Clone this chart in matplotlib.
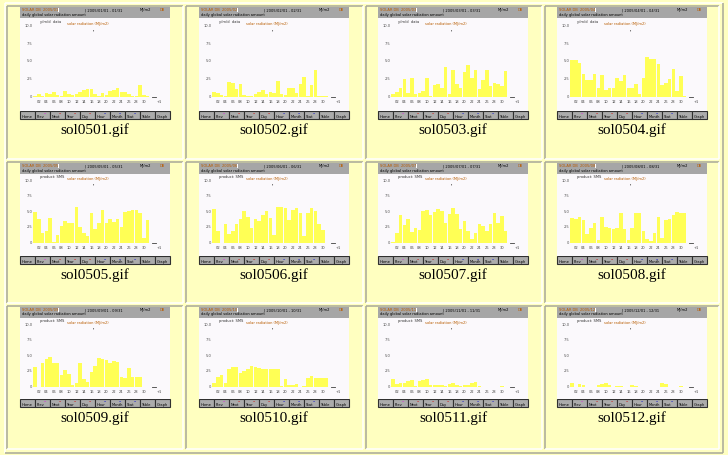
import matplotlib
matplotlib.use("Agg")
import matplotlib.pyplot as plt
from matplotlib.patches import Rectangle

# page size in pixels
W, H = 728, 455

captions = ["sol0501.gif", "sol0502.gif", "sol0503.gif", "sol0504.gif",
            "sol0505.gif", "sol0506.gif", "sol0507.gif", "sol0508.gif",
            "sol0509.gif", "sol0510.gif", "sol0511.gif", "sol0512.gif"]

days = list(range(1, 32))

# daily values
sol0501 = [0.15, 0.4, 0.15, 0.55, 0.45, 0.65, 0.2, 0.1, 0.8, 0.45, 0.3, 0.45, 0.65, 0.95, 1.05, 1.1,
           0.45, 0.1, 0.5, 0.2, 0.75, 0.95, 1.3, 0.7, 0.65, 0.45, 0.15, 0.1, 1.6, 0.2, 0.1]
sol0502 = [0.7, 0.5, 0.25, 0.1, 2.1, 1.9, 1.1, 1.8, 0.25, 0.15, 0.1, 0.4, 0.65, 0.95, 0.4, 0.65,
           0.55, 2.25, 0.45, 0.2, 1.3, 1.3, 0.55, 1.8, 2.75, 0.1, 1.6, 3.8, 0.1, 0.1, 0.1]
sol0503 = [0.35, 0.65, 1.3, 2.45, 0.55, 2.65, 0.45, 0.55, 0.85, 2.65, 0.1, 1.6, 1.8, 1.2, 4.25, 0.45,
           3.8, 1.8, 1.3, 3.55, 4.5, 2.7, 3.8, 1.05, 2.35, 3.8, 1.5, 2.0, 1.8, 1.5, 3.7]
sol0504 = [5.2, 5.2, 4.8, 3.2, 2.4, 2.4, 3.2, 1.3, 3.1, 1.0, 1.2, 1.3, 2.6, 2.2, 3.1, 1.2,
           1.2, 1.8, 0.4, 2.6, 5.6, 5.4, 5.3, 4.6, 1.6, 1.9, 2.5, 3.9, 0.85, 2.9, 0.1]
sol0505 = [5.0, 3.8, 1.6, 1.9, 4.0, 0.15, 1.25, 2.7, 3.5, 3.2, 3.2, 5.8, 2.5, 1.55, 1.1, 4.8,
           2.25, 3.2, 5.3, 3.2, 3.8, 3.35, 3.9, 2.5, 5.0, 5.05, 5.3, 5.2, 4.85, 0.75, 3.65]
sol0506 = [5.5, 1.95, 0.0, 3.05, 1.4, 1.95, 3.05, 3.8, 5.1, 4.2, 2.35, 3.9, 3.55, 4.45, 5.1, 4.0,
           1.3, 5.8, 5.8, 5.65, 3.7, 5.2, 5.55, 4.85, 1.1, 4.85, 5.55, 5.1, 3.0, 2.05, 0.0]
sol0507 = [0.05, 1.5, 4.45, 2.85, 3.8, 1.75, 2.45, 2.05, 5.15, 5.25, 4.4, 5.0, 5.4, 5.15, 3.2, 4.6,
           5.55, 4.6, 2.2, 3.55, 1.95, 0.55, 1.6, 3.0, 2.7, 1.95, 3.0, 4.85, 3.2, 4.3, 1.95]
sol0508 = [4.0, 3.9, 4.15, 3.65, 1.4, 2.35, 3.15, 0.45, 4.1, 2.6, 2.35, 2.15, 2.35, 4.8, 2.15, 0.45,
           2.35, 4.8, 4.8, 1.85, 0.65, 0.3, 1.6, 4.15, 0.75, 3.65, 3.8, 4.45, 4.95, 4.75, 4.8]
sol0509 = [3.15, 0.0, 3.85, 4.5, 4.8, 3.75, 3.85, 1.85, 2.75, 2.0, 0.2, 0.65, 3.8, 1.3, 0.75, 2.35,
           3.35, 4.6, 4.4, 4.25, 3.9, 4.1, 4.0, 1.5, 1.4, 3.0, 1.55, 1.55, 1.55, 0.0, 0.0]
sol0510 = [0.65, 1.5, 1.85, 0.55, 2.8, 3.1, 3.1, 2.15, 2.55, 2.9, 3.3, 3.15, 2.95, 2.85, 2.85, 2.85,
           2.85, 2.85, 0.1, 1.25, 0.3, 0.3, 0.4, 0.0, 0.1, 1.45, 1.7, 1.4, 1.4, 1.4, 1.4]
sol0511 = [1.2, 0.45, 0.65, 0.55, 0.85, 1.05, 0.1, 0.95, 1.05, 1.25, 0.3, 0.2, 0.25, 0.25, 0.1, 0.45,
           0.6, 0.3, 0.1, 0.2, 0.3, 0.65, 0.75, 0.15, 0.0, 0.0, 0.0, 0.0, 0.0, 0.1, 0.0]
sol0512 = [0.65, 0.0, 0.4, 0.2, 0.0, 0.0, 0.0, 0.2, 0.4, 0.55, 0.25, 0.0, 0.15, 0.15, 0.0, 0.0,
           0.25, 0.15, 0.0, 0.0, 0.0, 0.0, 0.0, 0.0, 0.55, 0.45, 0.0, 0.0, 0.0, 0.15, 0.0]

months = [sol0501, sol0502, sol0503, sol0504, sol0505, sol0506,
          sol0507, sol0508, sol0509, sol0510, sol0511, sol0512]

y_ticks = [0, 2.5, 5, 7.5, 10]
y_tick_labels = ["0", "2.5", "5.0", "7.5", "10.0"]
x_tick_days = [2, 4, 6, 8, 10, 12, 14, 16, 18, 20, 22, 24, 26, 28, 30, 34]
x_tick_labels = ["02", "04", "06", "08", "10", "12", "14", "16", "18", "20",
                 "22", "24", "26", "28", "30", "+1"]
buttons = ["Home", "Prev", "Next", "Year", "Day", "Hour", "Month", "Stat", "Table", "Graph"]
button_marks = [None, "#e020e0", "#d01010", "#d01010", "#d01010",
                "#1010d0", "#1010d0", "#1010d0", None, None]

BG = "#FFFFC0"
BAR = "#FFFF55"
PLOT_BG = "#FBF9FC"
HEAD = "#A6A6A6"
ORANGE = "#B85C00"

# layout (pixels)
thumb_x = [20, 199, 378, 557]
row_top = [7.3, 163.3, 307.0]
row_h = [112.0, 101.0, 100.0]
zero_off = [89.4, 79.4, 79.7]      # baseline below thumbnail top
unit_px = [7.07, 6.2, 6.2]         # pixels per unit
caption_y = [130, 275, 418]
head_h, btn_h, thumb_w = 11.0, 8.3, 150.0
bar_start, day_px = 13.3, 3.75

cell_x = [(7, 183), (186, 362.5), (366, 542), (545, 718.5)]
cell_y = [(5.5, 159), (162, 303), (306, 449)]

fig = plt.figure(figsize=(W / 100, H / 100), dpi=100, facecolor=BG)
page = fig.add_axes([0, 0, 1, 1])
page.set_xlim(0, W)
page.set_ylim(H, 0)
page.axis("off")
page.set_facecolor(BG)

LIGHT, DARK = "#FFFFFF", "#A8A898"


def bevel(x0, y0, x1, y1, top_col, bot_col, lw=1.1):
    page.plot([x0, x1], [y0, y0], color=top_col, lw=lw, solid_capstyle="butt")
    page.plot([x0, x0], [y0, y1], color=top_col, lw=lw, solid_capstyle="butt")
    page.plot([x0, x1], [y1, y1], color=bot_col, lw=lw, solid_capstyle="butt")
    page.plot([x1, x1], [y0, y1], color=bot_col, lw=lw, solid_capstyle="butt")


# table outer border (raised) and cell borders (sunken)
bevel(4.5, 3.3, 722.5, 452.5, LIGHT, DARK)
for (cx0, cx1) in cell_x:
    for (cy0, cy1) in cell_y:
        bevel(cx0, cy0, cx1, cy1, DARK, LIGHT)

tiny = dict(fontsize=2.6, family="DejaVu Sans")

for k, vals in enumerate(months):
    r, c = divmod(k, 4)
    x0 = thumb_x[c]
    y0 = row_top[r]
    h = row_h[r]

    # header bar
    page.add_patch(Rectangle((x0, y0), thumb_w, head_h, facecolor=HEAD, edgecolor="none"))
    page.add_patch(Rectangle((x0 + 38, y0 + 1), 1.2, 4, facecolor="white", edgecolor="none"))
    page.text(x0 + 2, y0 + 3, f"SOLAR DB  2005/{k + 1:02d}", color=ORANGE, va="center", **tiny)
    page.text(x0 + 65, y0 + 3, f"| 2005/{k + 1:02d}/01 - {k + 1:02d}/31", color="black", va="center", **tiny)
    page.text(x0 + 120, y0 + 3, "MJ/m2", color="black", va="center", **tiny)
    page.text(x0 + 140, y0 + 3, "DB", color=ORANGE, va="center", **tiny)
    page.text(x0 + 2, y0 + 7.5, "daily global solar radiation amount", color="black", va="center", **tiny)

    # button bar
    by = y0 + h - btn_h
    bw = thumb_w / len(buttons)
    for i, name in enumerate(buttons):
        page.add_patch(Rectangle((x0 + i * bw, by), bw, btn_h, facecolor="#ABABAB",
                                 edgecolor="#303030", linewidth=0.8))
        page.text(x0 + i * bw + 1.5, by + btn_h - 2, name, color="black", va="center", **tiny)
        if button_marks[i]:
            page.text(x0 + i * bw + 9, by + 2.5, "..", color=button_marks[i], va="center",
                      fontsize=3, fontweight="bold")

    # caption
    page.text(x0 + thumb_w / 2, caption_y[r], captions[k], ha="center", va="center",
              fontsize=11, family=["Liberation Serif", "DejaVu Serif"], color="black")

    # chart area
    top = y0 + head_h
    bot = by
    ax = fig.add_axes([x0 / W, 1 - bot / H, thumb_w / W, (bot - top) / H])
    ax.set_facecolor(PLOT_BG)
    left = 0.5 - bar_start / day_px
    ax.set_xlim(left, left + thumb_w / day_px)
    base = y0 + zero_off[r]
    ax.set_ylim(-(bot - base) / unit_px[r], (base - top) / unit_px[r])
    for s in ax.spines.values():
        s.set_visible(False)
    ax.set_xticks([])
    ax.set_yticks([])

    ax.bar(days, vals, width=0.9, color=BAR, linewidth=0)

    lab_x = left + 12.5 / day_px
    for v, t in zip(y_ticks, y_tick_labels):
        ax.text(lab_x, v, t, ha="right", va="center", color="#505050", **tiny)
    lab_y = -5.5 / unit_px[r]
    for d, t in zip(x_tick_days, x_tick_labels):
        ax.text(d, lab_y, t, ha="center", va="center", color="#404040", **tiny)
    ax.plot([32.2, 33.2], [0, 0], color="#404040", lw=0.6)

    ax.text(left + 20 / day_px, 10.6, "product: SMS" if r else "y/m/d  data",
            color="#303030", va="center", **tiny)
    ax.text(15, 10.3, "solar radiation (MJ/m2)", ha="center", va="center", color=ORANGE, **tiny)
    ax.text(16.5, 9.2, "'", ha="center", va="center", color="black", fontsize=4)

fig.savefig("out.png", dpi=100, facecolor=BG)
